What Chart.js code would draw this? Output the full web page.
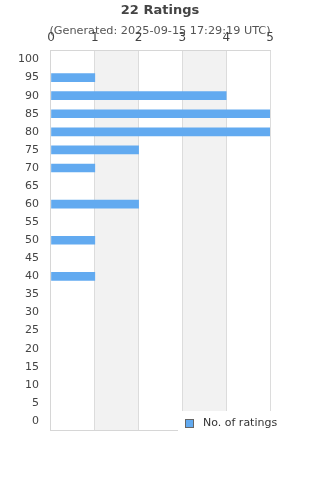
<!DOCTYPE html>
<html>
<head>
<meta charset="utf-8">
<script src="https://cdn.jsdelivr.net/npm/chart.js@4/dist/chart.umd.min.js"></script>
<style>
  html, body { margin: 0; padding: 0; background: #fff; }
  #wrap { width: 320px; height: 480px; }
</style>
</head>
<body>
<div id="wrap"><canvas id="ratingsChart" width="320" height="480"></canvas></div>
<script>
const scoreLabels = ['100', '95', '90', '85', '80', '75', '70', '65', '60', '55', '50',
                     '45', '40', '35', '30', '25', '20', '15', '10', '5', '0'];
const ratingCounts = [0, 1, 4, 5, 5, 2, 1, 0, 2, 0, 1, 0, 1, 0, 0, 0, 0, 0, 0, 0, 0];
const countTicks = [0, 1, 2, 3, 4, 5];
const shadedBands = [[1, 2], [3, 4]];
const chartTitle = '22 Ratings';
const chartSubtitle = '(Generated: 2025-09-15 17:29:19 UTC)';
const seriesName = 'No. of ratings';

const barColor = '#62aaf0';
const fontFamily = '"DejaVu Sans", sans-serif';

// faixas cinzas atras das barras
const bandsPlugin = {
    id: 'bands',
    beforeDraw(chart) {
        const ctx = chart.ctx;
        const area = chart.chartArea;
        const x = chart.scales.x;
        ctx.save();
        ctx.fillStyle = '#f2f2f2';
        shadedBands.forEach(b => {
            const x0 = x.getPixelForValue(b[0]);
            const x1 = x.getPixelForValue(b[1]);
            ctx.fillRect(x0, area.top, x1 - x0, area.bottom - area.top);
        });
        ctx.restore();
    },
    afterDraw(chart) {
        const ctx = chart.ctx;
        const area = chart.chartArea;
        ctx.save();
        // borda de baixo
        ctx.strokeStyle = '#d6d6d6';
        ctx.lineWidth = 1;
        ctx.beginPath();
        ctx.moveTo(area.left, area.bottom + 0.5);
        ctx.lineTo(area.right, area.bottom + 0.5);
        ctx.stroke();
        // legenda com fundo branco por cima
        const lx = area.right - 92;
        const ly = area.bottom - 19;
        ctx.fillStyle = '#fff';
        ctx.fillRect(lx, ly, chart.width - lx, chart.height - ly);
        ctx.fillStyle = barColor;
        ctx.fillRect(lx + 7.5, ly + 8.5, 8, 8);
        ctx.strokeStyle = '#666';
        ctx.strokeRect(lx + 7.5, ly + 8.5, 8, 8);
        ctx.fillStyle = '#333';
        ctx.font = '11px ' + fontFamily;
        ctx.textBaseline = 'middle';
        ctx.textAlign = 'left';
        ctx.fillText(seriesName, lx + 25, ly + 12);
        ctx.restore();
    }
};

function inicializarGrafico() {
    const ctx = document.getElementById('ratingsChart').getContext('2d');
    return new Chart(ctx, {
        type: 'bar',
        data: {
            labels: scoreLabels,
            datasets: [{
                label: seriesName,
                data: ratingCounts,
                // barras com zero ficam invisiveis
                backgroundColor: c => (c.raw ? barColor : 'rgba(0,0,0,0)'),
                borderWidth: 0,
                barThickness: 8
            }]
        },
        options: {
            indexAxis: 'y',
            responsive: false,
            animation: false,
            layout: { padding: { left: 6, right: 6, top: 2, bottom: 50 } },
            plugins: {
                legend: { display: false },
                tooltip: { enabled: false },
                title: {
                    display: true,
                    text: chartTitle,
                    color: '#444',
                    font: { family: fontFamily, size: 13, weight: 'bold' },
                    padding: { top: 1, bottom: 2 }
                },
                subtitle: {
                    display: true,
                    text: chartSubtitle,
                    color: '#555',
                    font: { family: fontFamily, size: 11.25 },
                    padding: { top: 4, bottom: -12 }
                }
            },
            scales: {
                x: {
                    position: 'top',
                    min: 0,
                    max: 5,
                    afterBuildTicks: axis => { axis.ticks = countTicks.map(v => ({ value: v })); },
                    ticks: {
                        color: '#444',
                        font: { family: fontFamily, size: 12 },
                        padding: 5
                    },
                    grid: { color: '#dcdcdc', drawTicks: false },
                    border: { color: '#d6d6d6' }
                },
                y: {
                    ticks: {
                        color: '#444',
                        font: { family: fontFamily, size: 11 },
                        padding: 12,
                        autoSkip: false
                    },
                    grid: { display: false, drawTicks: false },
                    border: { color: '#d6d6d6' }
                },
                // eixo vazio so para reservar a margem da direita
                yRight: {
                    type: 'linear',
                    position: 'right',
                    ticks: { display: false },
                    grid: { display: false, drawTicks: false },
                    border: { display: false },
                    afterFit: s => { s.width = 44; }
                }
            }
        },
        plugins: [bandsPlugin]
    });
}

document.addEventListener('DOMContentLoaded', () => {
    inicializarGrafico();
});
</script>
</body>
</html>
